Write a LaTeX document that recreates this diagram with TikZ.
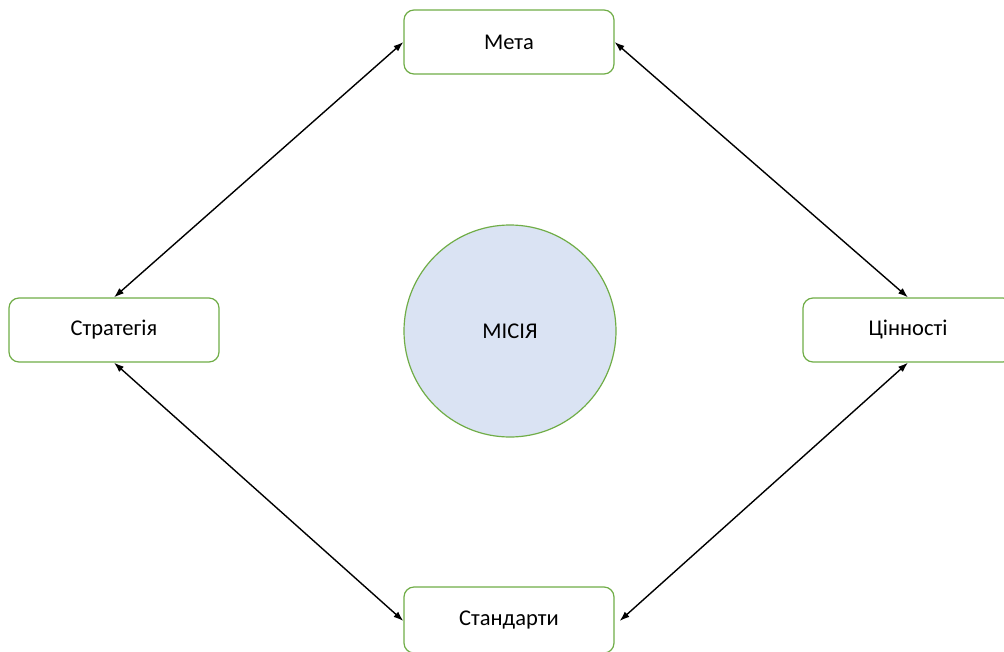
\documentclass[tikz,border=0pt]{standalone}
\usepackage{fontspec}
\setmainfont{Carlito}
\usepackage{tikz}
\usetikzlibrary{arrows.meta}

\definecolor{boxgreen}{RGB}{112,173,71}
\definecolor{circblue}{RGB}{218,227,243}

\begin{document}
\begin{tikzpicture}[line cap=round,line join=round,x=1pt,y=-1pt,
  box/.style={draw=boxgreen,line width=1.2pt,rounded corners=10pt,fill=white,
    minimum width=210pt,minimum height=64pt,inner sep=0pt,font=\fontsize{22.5}{26}\selectfont},
  core/.style={circle,draw=boxgreen,line width=1.2pt,fill=circblue,
    minimum size=212pt,inner sep=0pt,font=\fontsize{22.5}{26}\selectfont},
  link/.style={{Latex[length=10pt,width=7pt]}-{Latex[length=10pt,width=7pt]},line width=1.4pt}]
\clip(0,0) rectangle (1004,651);
\node[core] (misia) at (510,331) {МІСІЯ};
\node[box] (meta) at (509,42) {Мета};
\node[box] (strat) at (114,330) {Стратегія};
\node[box] (cinn) at (908,330) {Цінності};
\node[box,minimum height=66pt] (stand) at (509,620) {Стандарти};
\draw [link] (meta.west) -- (strat.north);
\draw [link] (meta.east) -- (cinn.north);
\draw [link] (strat.south) -- ([yshift=-1pt]stand.west);
\draw [link] (cinn.south) -- ([xshift=5pt,yshift=-1pt]stand.east);
\end{tikzpicture}
\end{document}
